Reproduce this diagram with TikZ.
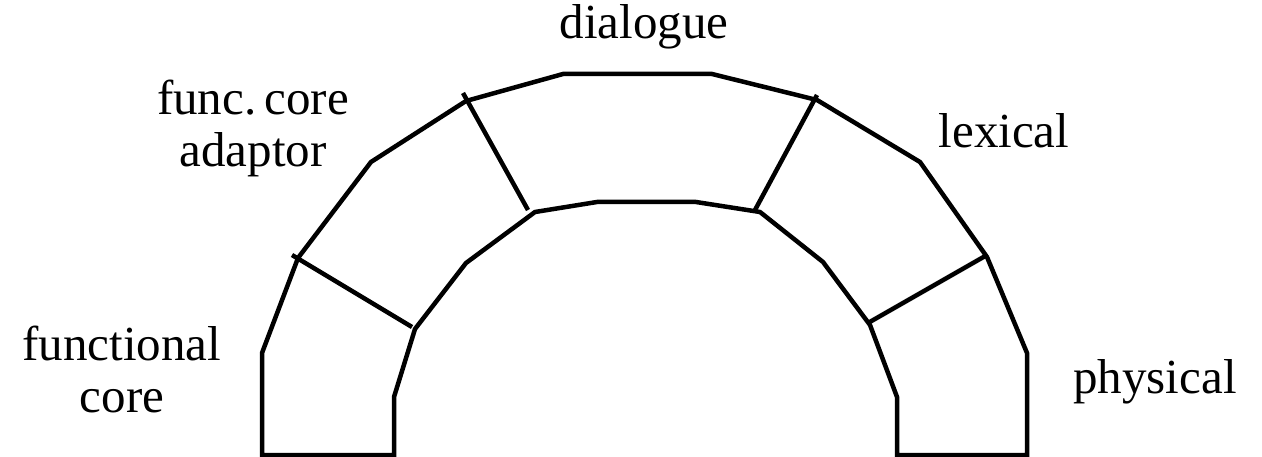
\documentclass[tikz,border=0pt]{standalone}
\usepackage{fontspec}
\setmainfont{Liberation Serif}
\usetikzlibrary{positioning}

\begin{document}
\begin{tikzpicture}[x=1pt, y=-1pt, line width=4.5pt, line join=miter,
    lbl/.style={anchor=base, align=center, inner sep=0pt, font=\fontsize{49}{52}\selectfont}]
    \useasboundingbox (0,0) rectangle (1262,457);

    % outer and inner rim of the arch
    \draw (394,455) -- (262,455) -- (262,353) -- (298,258) -- (371,162) -- (466,101)
        -- (563,74) -- (712,74) -- (817,100) -- (920,162) -- (987,257) -- (1027,353)
        -- (1027,455) -- (897,455) -- (897,397) -- (870,325) -- (823,262) -- (760,212)
        -- (696,202) -- (597,202) -- (535,212) -- (466,263) -- (415,329) -- (394,397) -- cycle;

    % joints between the components
    \coordinate (fcout) at (292,255);   \coordinate (fcin) at (412,327);
    \coordinate (adout) at (463,93);    \coordinate (adin) at (528,210);
    \coordinate (lxout) at (817,95);    \coordinate (lxin) at (755,210);
    \coordinate (phout) at (987,255);   \coordinate (phin) at (868,323);
    \draw (fcout) -- (fcin);
    \draw (adout) -- (adin);
    \draw (lxout) -- (lxin);
    \draw (phout) -- (phin);

    \node[lbl] (dialogue) at (644,39) {dialogue};
    \node[lbl] (adaptor) at (253,167) {func.\,core\\adaptor};
    \node[lbl] (lexical) at (1004,148) {lexical};
    \node[lbl] (fcore) at (122,412) {functional\\core};
    \node[lbl] (physical) at (1155,393) {physical};
\end{tikzpicture}
\end{document}
